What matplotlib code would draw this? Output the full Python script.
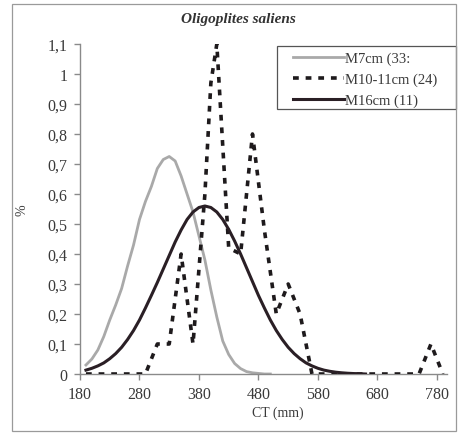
import matplotlib
matplotlib.use('Agg')
import matplotlib.pyplot as plt
from matplotlib.patches import Rectangle
from matplotlib.ticker import FuncFormatter, MultipleLocator

# M7cm (33) - grey curve
ct_m7 = [190, 200, 210, 220, 230, 240, 250, 260, 270, 280, 290, 300, 310, 320,
         330, 340, 350, 360, 370, 380, 390, 400, 410, 420, 430, 440, 450, 460,
         470, 480, 490, 500]
pct_m7 = [0.03, 0.05, 0.08, 0.125, 0.18, 0.23, 0.285, 0.36, 0.43, 0.515, 0.575,
          0.625, 0.685, 0.715, 0.725, 0.71, 0.66, 0.60, 0.54, 0.46, 0.38, 0.28,
          0.19, 0.11, 0.065, 0.035, 0.018, 0.008, 0.004, 0.002, 0.0, 0.0]

# M10-11cm (24) - dashed curve
ct_m10 = [190, 290, 310, 330, 350, 370, 390, 400, 410, 430, 450, 470, 490, 510,
          530, 550, 570, 750, 770, 790]
pct_m10 = [0.0, 0.0, 0.1, 0.1, 0.4, 0.1, 0.6, 0.97, 1.1, 0.42, 0.4, 0.8, 0.48,
           0.2, 0.3, 0.2, 0.0, 0.0, 0.1, 0.0]

# M16cm (11) - black curve
ct_m16 = [190, 200, 210, 220, 230, 240, 250, 260, 270, 280, 290, 300, 310, 320,
          330, 340, 350, 360, 370, 380, 390, 400, 410, 420, 430, 440, 450, 460,
          470, 480, 490, 500, 510, 520, 530, 540, 550, 560, 570, 580, 590, 600,
          610, 620, 630, 640, 650, 660]
pct_m16 = [0.013, 0.019, 0.027, 0.037, 0.051, 0.068, 0.089, 0.115, 0.145, 0.18,
           0.22, 0.262, 0.305, 0.35, 0.395, 0.44, 0.48, 0.515, 0.54, 0.555, 0.56,
           0.555, 0.54, 0.515, 0.482, 0.443, 0.40, 0.354, 0.308, 0.262, 0.22,
           0.18, 0.145, 0.115, 0.089, 0.068, 0.051, 0.037, 0.027, 0.019, 0.013,
           0.009, 0.006, 0.004, 0.0025, 0.0015, 0.001, 0.0]

labels = ['M7cm (33:', 'M10-11cm (24)', 'M16cm (11)']
xticks = [180, 280, 380, 480, 580, 680, 780]

plt.rcParams['font.family'] = ['Liberation Serif', 'DejaVu Serif']

W, H = 458, 435
fig = plt.figure(figsize=(W / 100, H / 100), dpi=100)
ax = fig.add_axes([80 / W, 1 - 375 / H, 367 / W, 330 / H])

l1, = ax.plot(ct_m7, pct_m7, color='#a9a9a9', lw=2.0, zorder=2)
l2, = ax.plot(ct_m10, pct_m10, color='#1e1a1c', lw=2.6,
              linestyle=(0, (1.6, 1.9)), zorder=3)
l3, = ax.plot(ct_m16, pct_m16, color='#2a1f25', lw=2.2, zorder=4)

ax.set_xlim(180, 797)
ax.set_ylim(0, 1.1)
ax.set_xticks(xticks)
ax.yaxis.set_major_locator(MultipleLocator(0.1))
ax.yaxis.set_major_formatter(FuncFormatter(
    lambda v, p: ('%.1f' % v).rstrip('0').rstrip('.').replace('.', ',') if v else '0'))

for s in ('top', 'right'):
    ax.spines[s].set_visible(False)
for s in ('left', 'bottom'):
    ax.spines[s].set_color('#8a8a8a')
    ax.spines[s].set_linewidth(1.0)
ax.tick_params(direction='out', length=4, width=1, color='#8a8a8a',
               labelsize=11.5, labelcolor='#3a3a3a', pad=5)

ax.set_xlabel('CT (mm)', fontsize=10, color='#3a3a3a', labelpad=4)
ax.xaxis.set_label_coords(0.54, -0.095)
fig.text(22 / W, 1 - 210 / H, '%', rotation=90, fontsize=10, color='#3a3a3a',
         ha='center', va='center')

fig.text(238 / W, 1 - 20 / H, 'Oligoplites saliens', fontsize=11,
         style='italic', weight='bold', color='#333333', ha='center', va='center')

leg = ax.legend([l1, l2, l3], labels, loc='upper left', frameon=False,
                bbox_to_anchor=(290 / W, 1 - 50 / H), bbox_transform=fig.transFigure,
                borderaxespad=0, fontsize=10.5, handlelength=3.5, handletextpad=0.1,
                labelspacing=0.5, borderpad=0.2)
for t in leg.get_texts():
    t.set_color('#3a3a3a')

fig.patches.append(Rectangle((277 / W, 1 - 110 / H), 179 / W, 63 / H,
                             transform=fig.transFigure, fill=False,
                             edgecolor='#555555', lw=0.9))
fig.patches.append(Rectangle((12 / W, 1 - 432 / H), 444 / W, 427 / H,
                             transform=fig.transFigure, fill=False,
                             edgecolor='#9a9a9a', lw=0.9))

fig.savefig('out.png', dpi=100)
